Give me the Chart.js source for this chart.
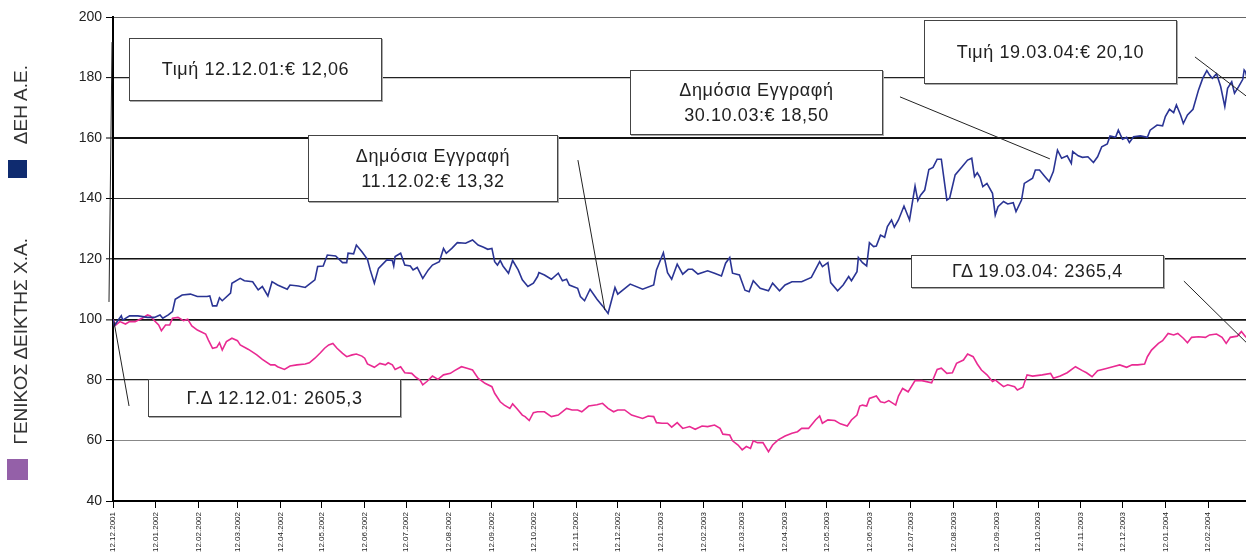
<!DOCTYPE html>
<html><head><meta charset="utf-8">
<script src="https://cdn.jsdelivr.net/npm/chart.js@4.4.1/dist/chart.umd.min.js"></script>
<style>
html,body{margin:0;padding:0;background:#fff;overflow:hidden;width:1246px;height:552px;}
#wrap{position:absolute;left:0;top:0;width:1270px;height:552px;}
canvas{display:block}
.note{position:absolute;box-sizing:border-box;background:#fff;border:1.5px solid #444;box-shadow:1px 1px 0 #aaa;display:flex;align-items:center;justify-content:center;text-align:center;font-family:'Liberation Sans',Arial,sans-serif;font-size:18px;letter-spacing:0.6px;color:#222;line-height:25px;}
.leg{position:absolute;writing-mode:vertical-rl;transform:rotate(180deg);font-family:'Liberation Sans',Arial,sans-serif;font-size:19px;color:#333;line-height:20px;white-space:nowrap;}
.sw{position:absolute;}
</style></head>
<body>
<div id="wrap"><canvas id="c" width="1270" height="552"></canvas></div>
<div class="leg" style="left:11px;top:65px;">ΔΕΗ Α.Ε.</div>
<div class="sw" style="left:8px;top:160px;width:19px;height:18px;background:#0f2b6f;"></div>
<div class="leg" style="left:11px;top:238px;">ΓΕΝΙΚΟΣ ΔΕΙΚΤΗΣ Χ.Α.</div>
<div class="sw" style="left:7px;top:459px;width:21px;height:21px;background:#9460a8;"></div>
<div id="notes"></div>
<script>
// x = days since 12.12.2001
const tickDays = [0,31,62,90,121,151,182,212,243,274,304,335,365,396,427,455,486,516,547,577,608,639,669,700,730,761,792,821];
const tickLabels = ['12.12.2001','12.01.2002','12.02.2002','12.03.2002','12.04.2002','12.05.2002','12.06.2002','12.07.2002','12.08.2002','12.09.2002','12.10.2002','12.11.2002','12.12.2002','12.01.2003','12.02.2003','12.03.2003','12.04.2003','12.05.2003','12.06.2003','12.07.2003','12.08.2003','12.09.2003','12.10.2003','12.11.2003','12.12.2003','12.01.2004','12.02.2004','12.03.2004'];
const yTicks = [40,60,80,100,120,140,160,180,200];

const dehDays = [
0,1,6,7,12,18,25,30,34,36,
40,43,45,50,56,61,68,70,72,75,
77,79,85,86,92,95,101,105,108,112,
115,119,126,128,134,139,146,148,152,155,
161,166,169,170,174,176,180,184,186,189,
192,198,202,203,204,208,211,215,217,220,
224,228,231,236,239,241,245,249,255,260,
264,268,271,274,276,278,280,282,286,289,
293,296,300,304,307,308,312,317,322,325,
328,330,336,338,341,345,350,354,358,363,
365,374,383,391,393,398,401,404,408,412,
416,419,423,430,435,440,443,446,448,453,
457,460,463,468,474,477,482,486,491,498,
505,511,513,517,519,524,528,532,534,538,
539,542,545,547,550,552,555,558,560,563,
565,568,572,576,580,582,584,587,590,593,
596,599,603,605,609,614,618,621,623,625,
627,629,632,636,638,640,644,647,651,653,
657,659,665,667,670,674,677,680,683,686,
690,693,694,698,701,705,709,712,715,719,
721,725,727,730,733,735,738,743,748,750,
755,759,761,764,767,769,772,774,777,781,
785,788,791,793,795,798,801,804,806,809,
811,814,817,818,819,822,825,828];
const dehValues = [
100,98,101.2,99.8,101.2,101.2,100.7,100.7,101.5,100.4,
101.5,102.6,106.7,108.1,108.4,107.6,107.6,107.8,104.5,104.5,
107.2,106.2,108.7,112.0,113.6,112.8,112.5,109.8,110.9,107.8,
112.5,111.4,110.0,111.4,111.1,110.6,113.1,117.5,117.7,121.3,
121.0,118.8,118.8,121.9,121.7,124.6,122.4,119.9,116.4,112.0,
116.9,119.7,119.5,117.7,120.8,121.9,118.0,117.7,116.4,117.2,
113.6,116.4,118.0,119.1,123.5,121.9,123.5,125.4,125.2,126.3,
124.6,123.9,123.2,123.5,119.1,118.0,119.5,117.7,115.3,119.5,
116.4,113.1,110.9,112.0,114.2,115.5,114.7,113.3,115.3,112.8,
113.3,111.4,110.3,107.6,106.2,110.0,106.7,104.5,102.0,110.6,
108.4,111.7,110.0,111.4,116.4,122.1,115.5,113.3,118.3,115.0,
116.6,116.6,115.0,116.1,115.3,114.4,118.6,120.5,115.3,114.7,
109.7,109.2,112.8,110.3,109.5,112.0,109.5,111.4,112.5,112.5,
113.9,119.1,117.5,118.8,112.2,109.5,111.4,114.2,112.8,115.8,
120.5,118.8,117.7,125.4,124.1,124.3,127.9,127.2,130.7,132.9,
130.5,132.9,137.5,132.9,144.1,139.3,141.1,142.8,149.6,150.3,
153.0,153.0,139.5,140.1,147.8,150.5,152.7,153.3,147.2,148.5,
147.0,143.9,145.0,141.7,134.5,137.3,139.0,138.2,138.6,135.7,
139.5,145.0,146.7,149.4,149.4,147.2,145.6,148.9,156.0,153.3,
154.1,151.6,155.5,154.1,153.6,153.8,151.9,153.8,157.1,158.0,
160.7,160.2,162.6,159.6,160.2,158.5,160.4,160.7,160.2,162.6,
164.3,164.0,167.1,169.5,168.4,170.9,167.6,164.8,167.6,169.5,
175.9,179.7,182.3,180.8,179.7,181.2,177.0,170.4,176.4,178.6,
174.8,177.0,179.4,182.5,181.9,176,171,166.7];

const gdDays = [
0,2,5,9,12,16,21,25,27,30,
33,35,38,41,43,47,51,54,57,61,
67,69,72,75,77,79,82,86,90,92,
98,104,108,114,117,119,124,128,133,139,
142,146,150,153,156,159,162,166,169,173,
176,180,182,184,189,193,197,199,202,204,
208,211,216,219,222,224,227,231,235,239,
244,247,252,256,260,264,269,274,276,280,
283,287,289,292,296,298,301,304,307,312,
317,322,328,332,336,339,344,350,354,358,
362,365,370,375,383,387,391,393,397,401,
404,408,412,417,421,426,430,435,439,441,
446,448,452,455,458,461,463,466,470,474,
477,481,486,491,495,498,503,508,511,513,
517,522,526,531,534,538,540,542,545,547,
552,555,558,561,566,568,571,575,580,585,
592,596,599,603,607,610,615,618,622,625,
628,632,636,638,641,644,647,652,654,658,
661,665,672,678,680,685,690,696,701,704,
708,712,719,723,728,733,737,741,746,748,
751,756,759,763,767,770,774,777,780,785,
790,793,798,802,805,808,813,816,819,824,
828];
const gdValues = [
100,98.2,99.3,98.5,99.3,99.3,100.4,101.5,101.2,99.6,
98.2,96.3,98.2,98.2,100.4,100.7,99.6,100.1,97.9,96.5,
95.2,93.2,90.5,90.8,92.3,89.9,92.7,93.8,93.0,91.6,
90.1,88.3,86.8,85.0,85.0,84.4,83.5,84.6,85.0,85.3,
85.7,87.2,89.0,90.5,91.6,92.1,90.5,88.8,87.7,88.3,
88.6,87.9,87.2,85.3,84.2,85.5,85.0,85.7,85.0,83.5,
84.4,82.4,82.2,80.9,80.0,78.4,79.5,81.3,80.2,81.7,
82.2,83.1,84.4,83.9,83.3,80.6,78.9,77.8,75.6,72.8,
71.7,70.6,72.1,70.6,68.4,67.9,66.6,69.2,69.5,69.5,
67.9,68.4,70.6,70.1,70.1,69.5,71.4,71.8,72.3,70.6,
69.5,70.1,70.1,68.4,67.3,68.1,67.9,65.9,65.7,65.7,
64.4,65.9,64.0,64.6,63.7,64.8,64.6,65.1,64.0,62.1,
61.8,59.9,58.5,56.9,58.0,57.4,59.9,59.3,59.3,56.3,
58.5,60.2,61.5,62.4,62.9,64.0,64.0,66.8,68.1,65.7,
66.8,66.6,65.5,64.8,66.8,68.4,71.4,71.7,71.4,73.9,
74.7,72.8,72.5,73.2,71.7,74.7,77.2,76.1,79.8,79.8,
79.1,83.5,83.9,82.2,82.4,85.5,86.6,88.6,87.7,85.3,
83.3,81.7,79.5,80.0,78.9,77.8,78.4,77.8,76.7,77.6,
81.7,81.3,81.7,82.2,80.6,81.3,82.4,84.4,83.1,82.4,
81.1,83.1,83.9,84.4,85.0,84.2,85.0,85.0,85.3,87.7,
89.9,92.1,93.0,95.4,94.9,95.4,93.8,92.3,94.1,94.3,
94.1,94.9,95.2,94.1,92.1,94.1,94.5,96.0,94.3,92.5,
90.8];

const seriesNames = ['ΔΕΗ Α.Ε.', 'ΓΕΝΙΚΟΣ ΔΕΙΚΤΗΣ Χ.Α.'];

// Annotation boxes (text + pixel placement) and leader lines (in data units: day, value)
const notes = [
  {lines:['Τιμή 12.12.01:€ 12,06'], box:[129,38,253,63]},
  {lines:['Δημόσια Εγγραφή','11.12.02:€ 13,32'], box:[308,135,250,67]},
  {lines:['Δημόσια Εγγραφή','30.10.03:€ 18,50'], box:[630,70,253,65]},
  {lines:['Τιμή 19.03.04:€ 20,10'], box:[924,20,253,64]},
  {lines:['ΓΔ 19.03.04: 2365,4'], box:[911,255,253,33]},
  {lines:['Γ.Δ 12.12.01: 2605,3'], box:[148,379,253,38]}
];
const leaders = [
  [[-0.7,191.7],[-2.9,105.8]],
  [[0.7,99.3],[11.6,71.4]],
  [[336.2,152.7],[355.7,103.1]],
  [[569.1,173.6],[677.5,153.1]],
  [[782.4,186.8],[828,170.9]],
  [[774.4,112.7],[828,88.6]]
];

const holder = document.getElementById('notes');
notes.forEach(n => {
  const d = document.createElement('div');
  d.className = 'note';
  d.style.left = n.box[0] + 'px';
  d.style.top = n.box[1] + 'px';
  d.style.width = n.box[2] + 'px';
  d.style.height = n.box[3] + 'px';
  d.innerHTML = n.lines.join('<br>');
  holder.appendChild(d);
});

const gridStyle = {200:['#666',1],180:['#222',1.2],160:['#111',2],140:['#333',1],120:['#111',1.6],100:['#111',1.8],80:['#222',1.2],60:['#888',1],40:['rgba(0,0,0,0)',1]};

const leaderPlugin = {
  id: 'leaders',
  afterDatasetsDraw(chart) {
    const c = chart.ctx, xs = chart.scales.x, ys = chart.scales.y;
    c.save();
    c.strokeStyle = '#222';
    c.lineWidth = 1;
    leaders.forEach(l => {
      c.beginPath();
      c.moveTo(xs.getPixelForValue(l[0][0]), ys.getPixelForValue(l[0][1]));
      c.lineTo(xs.getPixelForValue(l[1][0]), ys.getPixelForValue(l[1][1]));
      c.stroke();
    });
    c.restore();
  }
};

Chart.defaults.font.family = "'Liberation Sans', Arial, sans-serif";

new Chart(document.getElementById('c'), {
  type: 'line',
  data: {
    datasets: [
      {label: seriesNames[0], data: dehDays.map((d,i)=>({x:d, y:dehValues[i]})), borderColor:'#2a3494', borderWidth:1.6, pointRadius:0, tension:0},
      {label: seriesNames[1], data: gdDays.map((d,i)=>({x:d, y:gdValues[i]})), borderColor:'#e92a92', borderWidth:1.6, pointRadius:0, tension:0}
    ]
  },
  options: {
    responsive: false,
    animation: false,
    layout: {padding: {left: 60, right: 12, top: 17, bottom: 0}},
    plugins: {legend: {display:false}, tooltip: {enabled:false}},
    scales: {
      x: {
        type: 'linear', min: 0, max: 828,
        afterBuildTicks: s => { s.ticks = tickDays.map(v => ({value:v})); },
        afterFit: s => { s.height = 51; },
        grid: {drawOnChartArea:false, drawTicks:true, tickLength:7, tickColor:'#000', tickWidth:1},
        border: {display:true, color:'#000', width:2},
        ticks: {autoSkip:false, minRotation:90, maxRotation:90, padding:4, color:'#222', font:{size:8},
          callback: v => { const i = tickDays.indexOf(v); return i >= 0 ? tickLabels[i] : ''; }}
      },
      y: {
        min: 40, max: 200,
        afterBuildTicks: s => { s.ticks = yTicks.map(v => ({value:v})); },
        afterFit: s => { s.width = 53; },
        grid: {
          color: c => (gridStyle[c.tick.value] || ['#333',1])[0],
          lineWidth: c => (gridStyle[c.tick.value] || ['#333',1])[1],
          tickColor: '#000', tickWidth: 1, tickLength: 7, drawTicks: true
        },
        border: {display:true, color:'#000', width:2},
        ticks: {padding:4, color:'#222', font:{size:14}}
      }
    }
  },
  plugins: [leaderPlugin]
});
</script>
</body></html>
